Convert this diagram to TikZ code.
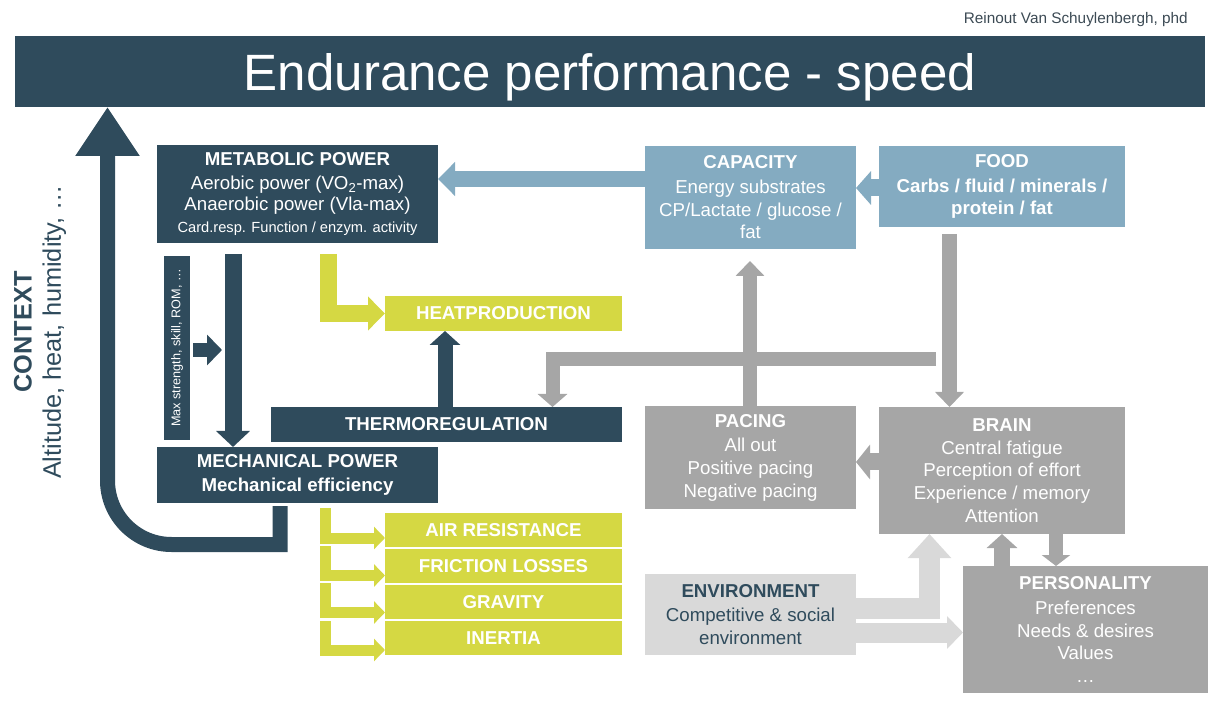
\documentclass[tikz,border=0pt]{standalone}
\usepackage{fontspec}
\setmainfont{Liberation Sans}
\usetikzlibrary{arrows.meta}
\definecolor{dark}{HTML}{2F4B5C}
\definecolor{blueC}{HTML}{84ABC1}
\definecolor{greyC}{HTML}{A6A6A6}
\definecolor{lightC}{HTML}{D9D9D9}
\definecolor{yel}{HTML}{D5D843}
\definecolor{auth}{HTML}{3C4A54}
\tikzset{
  sz/.style 2 args={minimum width=#1*0.75pt, minimum height=#2*0.75pt},
  box/.style={inner sep=0pt, outer sep=0pt, align=center, font=\fontsize{14}{17}\selectfont},
  darkbox/.style={box, fill=dark, text=white},
  bluebox/.style={box, fill=blueC, text=white},
  greybox/.style={box, fill=greyC, text=white},
  lightbox/.style={box, fill=lightC, text=dark},
  yelbox/.style={box, fill=yel, text=white, font=\bfseries\fontsize{14}{17}\selectfont, sz={237}{34}},
  blk/.style n args={3}{line width=#1, -{Triangle[length=#2,width=#3]}},
}
\begin{document}
\begin{tikzpicture}[x=0.75pt,y=-0.75pt]
\useasboundingbox (0,0) rectangle (1222,702);
% title
\node[fill=dark, inner sep=0pt, outer sep=0pt, sz={1190}{71}] (bar) at (610,71.5) {};
\node[anchor=base, text=white, inner sep=0pt, font=\fontsize{38.3}{45}\selectfont] (title) at (610,91) {Endurance performance - speed};
\node[anchor=base east, text=auth, inner sep=0pt, font=\fontsize{11.5}{14}\selectfont] (author) at (1188,24) {Reinout Van Schuylenbergh, phd};
% context
\node[rotate=90, align=center, text=dark, inner sep=0pt, font=\fontsize{19}{22}\selectfont] (ctx) at (40,332) {\textbf{CONTEXT}\\ Altitude, heat, humidity, …};
% left column
\node[darkbox, font=\fontsize{14}{16}\selectfont, sz={281}{98}] (met) at (297.5,194) {\textbf{METABOLIC POWER}\\[2pt] Aerobic power (VO\textsubscript{2}-max)\\ Anaerobic power (Vla-max)\\ {\fontsize{11}{13}\selectfont Card.resp. Function / enzym. activity}};
\node[fill=dark, text=white, rotate=90, minimum width=138pt, minimum height=19.5pt, inner sep=0pt, outer sep=0pt, font=\fontsize{9.5}{11}\selectfont] (mstr) at (177,348) {Max strength, skill, ROM, …};
\node[darkbox, sz={281}{56}] (mech) at (297.5,475) {\textbf{MECHANICAL POWER}\\[1pt] \textbf{Mechanical efficiency}};
\node[yelbox, sz={237}{35}] (heat) at (503.5,313.5) {HEATPRODUCTION};
\node[darkbox, font=\bfseries\fontsize{14}{17}\selectfont, sz={351}{35}] (thermo) at (446.5,424.5) {THERMOREGULATION};
\node[yelbox] (air) at (503.5,530) {AIR RESISTANCE};
\node[yelbox] (fric) at (503.5,566) {FRICTION LOSSES};
\node[yelbox] (grav) at (503.5,602) {GRAVITY};
\node[yelbox] (inert) at (503.5,638) {INERTIA};
% right part
\node[bluebox, sz={211}{103}] (cap) at (750.5,197.5) {\textbf{CAPACITY}\\[1.5pt] Energy substrates\\ CP/Lactate / glucose /\\ fat};
\node[bluebox, font=\bfseries\fontsize{14}{17}\selectfont, sz={246}{81}] (food) at (1002,186.5) {FOOD\\[1.5pt] Carbs / fluid / minerals /\\ protein / fat};
\node[greybox, sz={211}{103}] (pace) at (750.5,457.5) {\textbf{PACING}\\[1.5pt] All out\\ Positive pacing\\ Negative pacing};
\node[greybox, sz={246}{127}] (brain) at (1002,470.5) {\textbf{BRAIN}\\ Central fatigue\\ Perception of effort\\ Experience / memory\\ Attention};
\node[lightbox, sz={211}{81}] (env) at (750.5,614.5) {\textbf{ENVIRONMENT}\\[1pt] Competitive \& social\\ environment};
\node[greybox, sz={245}{127}] (pers) at (1085.5,629.5) {\textbf{PERSONALITY}\\[1.5pt] Preferences\\ Needs \& desires\\ Values\\ …};
% free ends
\coordinate (c1) at (233,254);
\coordinate (c2) at (193,350);
\coordinate (c3) at (328.5,254);
\coordinate (c4) at (949.5,234);
\coordinate (c5) at (936,359.5);
\coordinate (c6) at (750,261);
\coordinate (c7) at (280,506);
\coordinate (y1) at (325.5,508);
\coordinate (y2) at (325.5,546);
\coordinate (y3) at (325.5,583);
\coordinate (y4) at (325.5,621);
% arrows
\draw[blk={12.75pt}{11.25pt}{24.75pt}, blueC] (food.west |- 0,188) -- (cap.east |- 0,188);
\draw[blk={12pt}{12.75pt}{24.75pt}, blueC] (cap.west |- 0,179) -- (met.east |- 0,179);
\draw[blk={12.75pt}{12pt}{24.75pt}, dark] (c1) -- (c1 |- mech.north);
\draw[blk={10.5pt}{11.25pt}{22.5pt}, dark] (c2) -- ++(29,0);
\draw[blk={12.75pt}{12.75pt}{24.75pt}, yel] (c3) |- (heat.west);
\draw[blk={11.25pt}{10.5pt}{22.5pt}, dark] (445,0 |- thermo.north) -- (445,0 |- heat.south);
\draw[blk={11.25pt}{11.25pt}{21pt}, greyC] (c4) -- (c4 |- brain.north);
\draw[blk={10.5pt}{9.75pt}{21.75pt}, greyC] (c5) -| (552.5,0 |- thermo.north);
\draw[blk={10.5pt}{11.25pt}{21pt}, greyC] (c6 |- pace.north) -- (c6);
\draw[blk={12.75pt}{10.5pt}{25.5pt}, greyC] (brain.west |- 0,462) -- (pace.east |- 0,462);
\draw[blk={15.75pt}{18pt}{31.5pt}, lightC] (env.east |- 0,608.5) -| (929.5,0 |- brain.south);
\draw[blk={15pt}{12pt}{24pt}, lightC] (env.east |- 0,632.5) -- (pers.west |- 0,632.5);
\draw[blk={12pt}{10.5pt}{22.5pt}, greyC] (1002,0 |- pers.north) -- (1002,0 |- brain.south);
\draw[blk={10.5pt}{8.25pt}{21pt}, greyC] (1056,0 |- brain.south) -- (1056,0 |- pers.north);
\draw[blk={8.25pt}{8.25pt}{16.5pt}, yel] (y1) |- (air.west |- 0,538);
\draw[blk={8.25pt}{8.25pt}{16.5pt}, yel] (y2) |- (fric.west |- 0,575.5);
\draw[blk={8.25pt}{8.25pt}{16.5pt}, yel] (y3) |- (grav.west |- 0,612.5);
\draw[blk={8.25pt}{8.25pt}{16.5pt}, yel] (y4) |- (inert.west |- 0,650);
\draw[line width=11.25pt, dark, -{Triangle[length=36.75pt,width=45.75pt]}] (c7) -- (280,544.5) [rounded corners=48pt] -- (107.5,544.5) -- (107.5,0 |- bar.south);
\end{tikzpicture}
\end{document}
